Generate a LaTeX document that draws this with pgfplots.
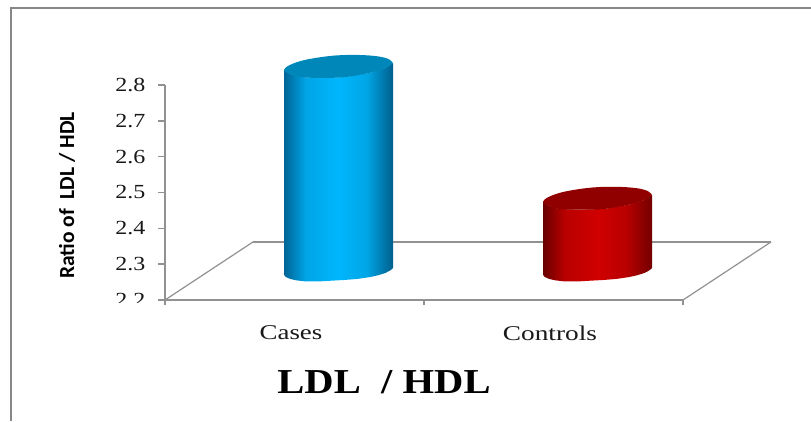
\documentclass[border=0pt]{standalone}
\usepackage{fontspec}
\usepackage{graphicx}
\usepackage{pgfplots}
\pgfplotsset{compat=1.18}
\setmainfont{Liberation Serif}
\newfontfamily\carlito{Carlito}
\definecolor{axgrey}{RGB}{145,145,145}
\definecolor{framegrey}{RGB}{135,135,135}
\definecolor{casetop}{RGB}{0,135,185}
\definecolor{ctrltop}{RGB}{145,0,0}
\definecolor{caseA}{RGB}{0,100,150}
\definecolor{caseB}{RGB}{0,165,230}
\definecolor{caseC}{RGB}{0,182,252}
\definecolor{caseD}{RGB}{0,95,140}
\definecolor{ctrlA}{RGB}{105,0,0}
\definecolor{ctrlB}{RGB}{185,0,0}
\definecolor{ctrlC}{RGB}{208,0,0}
\definecolor{ctrlD}{RGB}{115,0,0}
\pgfdeclarehorizontalshading{casebody}{100bp}{
  color(0bp)=(caseA);
  color(25bp)=(caseA);
  color(35bp)=(caseB);
  color(50bp)=(caseC);
  color(63bp)=(caseB);
  color(75bp)=(caseD);
  color(100bp)=(caseD)}
\pgfdeclarehorizontalshading{ctrlbody}{100bp}{
  color(0bp)=(ctrlA);
  color(25bp)=(ctrlA);
  color(35bp)=(ctrlB);
  color(50bp)=(ctrlC);
  color(63bp)=(ctrlB);
  color(75bp)=(ctrlD);
  color(100bp)=(ctrlD)}
\begin{document}
\begin{tikzpicture}[x=1pt,y=1pt]
\useasboundingbox (0,0) rectangle (811,421);
\draw[framegrey,line width=1.8pt] (11,0) -- (11,413) -- (811,413);
\begin{axis}[
  at={(165pt,121pt)}, anchor=origin,
  width=518pt, height=215pt, scale only axis,
  xmin=165, xmax=683, ymin=2.2, ymax=2.8,
  clip=false,
  axis lines=left, axis line style={axgrey,line width=1.5pt,-},
  every tick/.style={axgrey,line width=1.5pt},
  tick align=outside,
  xtick={291,550}, xticklabels={\scalebox{1.28}[1]{Cases},\scalebox{1.3}[1]{Controls}},
  major x tick style={draw=none},
  minor xtick={165,424,683},
  minor tick length=5pt,
  xticklabel style={font=\fontsize{21}{24}\selectfont,text=black!90,yshift=-15pt},
  ytick={2.2,2.3,2.4,2.5,2.6,2.7,2.8},
  yticklabels={\scalebox{1.2}[1]{2.2},\scalebox{1.2}[1]{2.3},\scalebox{1.2}[1]{2.4},\scalebox{1.2}[1]{2.5},\scalebox{1.2}[1]{2.6},\scalebox{1.2}[1]{2.7},\scalebox{1.2}[1]{2.8}},
  major tick length=7pt,
  yticklabel style={font=\fontsize{20}{22}\selectfont,text=black!90,xshift=-9pt},
]
% floor
\addplot[axgrey,line width=1.4pt] coordinates {(253,2.362) (771,2.362)};
\addplot[axgrey,line width=1.2pt] coordinates {(165,2.2) (253,2.362)};
\addplot[axgrey,line width=1.2pt] coordinates {(683,2.2) (771,2.362)};
% Cases cylinder
\addplot[draw=none,shade,shading=casebody] coordinates {
 (284,2.842) (290,2.831) (300,2.822) (320,2.820) (345,2.822) (370,2.834) (385,2.847) (393,2.861)
 (393,2.289) (390,2.282) (385,2.275) (378,2.269) (370,2.264) (358,2.259) (345,2.256) (332,2.254)
 (320,2.252) (305,2.252) (296,2.255) (290,2.259) (286,2.264) (284,2.270)} --cycle;
\addplot[draw=none,fill=casetop,smooth,tension=0.6] coordinates {
 (393,2.861) (388,2.873) (375,2.881) (353,2.884) (330,2.881) (305,2.870) (290,2.856) (284,2.842)
 (290,2.831) (300,2.822) (320,2.820) (345,2.822) (370,2.834) (385,2.847) (393,2.861)} --cycle;
% Controls cylinder
\addplot[draw=none,shade,shading=ctrlbody] coordinates {
 (543,2.474) (549,2.463) (559,2.454) (579,2.452) (604,2.454) (629,2.466) (644,2.479) (652,2.493)
 (652,2.289) (649,2.282) (644,2.275) (637,2.269) (629,2.264) (617,2.259) (604,2.256) (591,2.254)
 (579,2.252) (564,2.252) (555,2.255) (549,2.259) (545,2.264) (543,2.270)} --cycle;
\addplot[draw=none,fill=ctrltop,smooth,tension=0.6] coordinates {
 (652,2.493) (647,2.505) (634,2.513) (612,2.516) (589,2.513) (564,2.502) (549,2.488) (543,2.474)
 (549,2.463) (559,2.454) (579,2.452) (604,2.454) (629,2.466) (644,2.479) (652,2.493)} --cycle;
\end{axis}
% the lower part of the lowest tick label is cut off in the reference
\fill[white] (100,105) rectangle (155,118.5);
\node[rotate=90,font=\carlito\bfseries\fontsize{21.5}{24}\selectfont] at (67,225.5) {Ratio of\ \ LDL / HDL};
\node[font=\bfseries\fontsize{35}{38}\selectfont] at (384,38.5) {\scalebox{1.16}[1]{LDL\ \ / HDL}};
\end{tikzpicture}
\end{document}
